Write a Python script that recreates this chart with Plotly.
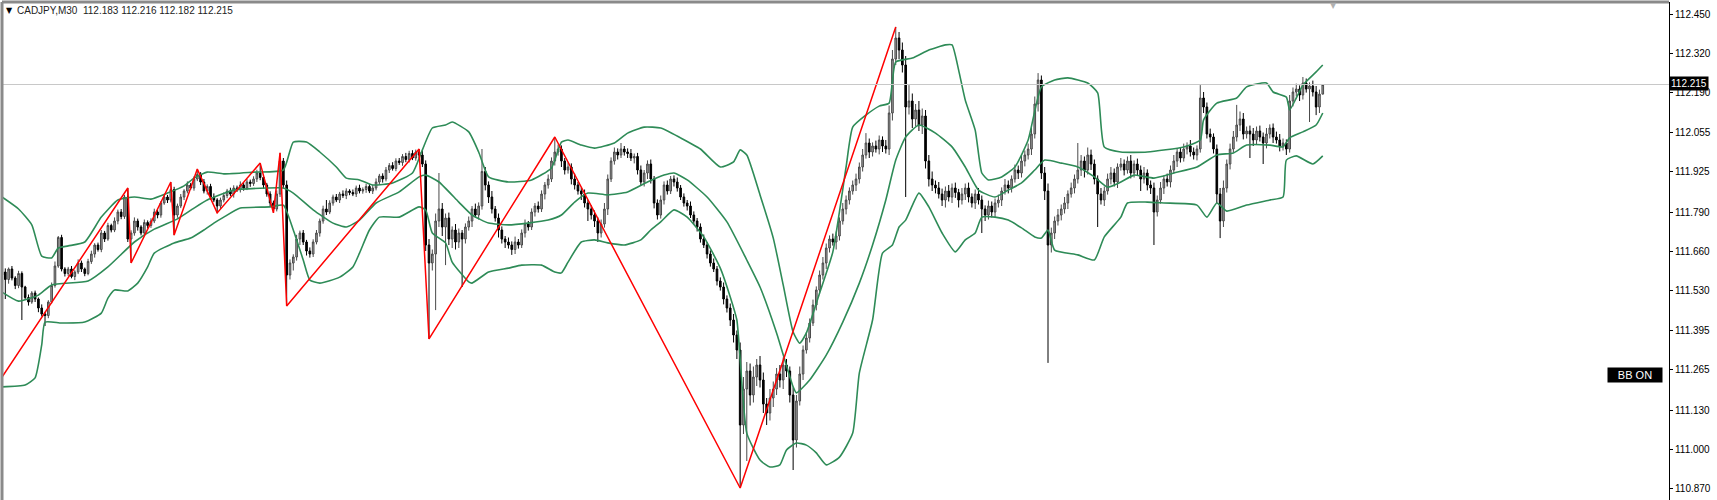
import plotly.graph_objects as go

# ---------------- DATA (prices in pips above 111.000) ----------------
BASE = 111.0
symbol = "CADJPY,M30"
first_open = 580

closes = [
    590,565,600,570,545,585,540,505,490,520,500,470,450,445,490,545,610,705,600,585,
    600,575,590,620,600,585,625,650,680,665,720,700,745,730,760,790,775,840,700,720,
    760,740,720,755,745,760,790,780,820,840,830,865,780,810,840,860,880,870,900,915,
    890,860,875,840,830,810,830,845,860,850,870,865,880,870,890,885,900,920,905,880,
    850,820,800,850,960,880,580,620,640,700,720,690,660,650,690,720,760,800,790,820,
    840,830,850,845,860,855,850,870,860,865,875,860,870,890,910,900,930,945,935,960,
    955,975,965,985,970,990,980,950,680,620,650,760,800,740,770,700,730,690,720,700,
    740,760,800,780,810,925,880,840,800,770,730,700,690,680,665,690,680,720,750,740,
    790,810,800,850,880,900,960,990,1000,960,930,940,900,880,860,850,820,800,780,760,
    720,750,800,900,960,990,980,1000,990,985,970,975,930,890,920,950,900,820,780,830,
    880,860,900,890,870,840,820,810,780,760,740,700,680,650,620,600,560,540,500,470,
    430,380,330,80,200,260,180,240,280,230,150,120,170,200,250,230,280,260,180,30,
    160,250,330,370,420,480,530,580,620,670,700,690,710,760,800,830,860,880,900,940,
    980,1020,990,1010,1000,1030,1010,1000,1120,1300,1370,1330,1280,1140,1160,1100,1130,1080,1110,960,
    900,880,870,850,830,860,840,870,855,830,850,870,840,820,850,830,800,780,810,790,
    820,830,860,880,870,900,930,920,960,980,1000,1050,1150,1230,920,860,680,720,760,780,
    800,820,850,870,900,930,960,930,980,950,900,850,830,860,900,920,890,940,950,930,
    960,920,950,930,900,920,880,870,790,830,870,900,890,930,960,990,970,1000,1010,990,
    980,1000,1170,1140,1050,1040,1000,850,760,870,950,1000,1040,1080,1100,1050,1060,1050,1030,1060,
    1040,1020,1050,1070,1040,1030,1010,1020,1000,1160,1190,1200,1180,1220,1200,1210,1190,1140,1183,1215,
]

upper_wick = [
    8,12,5,10,6,9,7,4,10,6,8,5,12,7,6,10,15,5,9,6,
    7,10,6,12,8,5,9,11,6,8,10,7,9,6,12,8,10,7,30,9,
    12,8,6,10,7,9,11,8,6,10,7,25,9,8,10,6,12,7,9,18,
    8,10,7,9,12,6,8,10,7,11,9,8,12,7,10,8,9,11,33,8,
    7,9,8,12,27,10,15,12,9,14,8,10,7,12,9,10,8,11,30,9,
    8,10,7,12,9,6,10,8,11,7,9,8,10,12,7,9,10,8,11,9,
    10,8,12,9,11,8,10,15,12,20,15,25,120,20,15,18,12,20,15,10,
    12,15,10,18,12,75,15,12,20,10,15,12,10,15,12,18,10,12,15,10,
    12,10,15,12,10,15,12,50,15,12,10,15,12,18,10,12,15,10,12,15,
    12,15,20,15,12,15,12,20,10,12,15,10,12,15,10,12,15,10,12,15,
    12,15,10,12,15,10,12,10,15,12,10,12,15,10,12,15,10,12,15,12,
    15,20,15,25,40,30,25,35,20,30,25,20,30,25,20,30,25,20,15,25,
    20,25,15,20,15,18,12,15,20,15,12,18,15,12,20,15,12,15,18,15,
    20,33,15,12,18,15,12,20,25,30,37,20,25,30,53,25,20,30,25,20,
    20,25,15,20,18,15,20,15,18,12,20,15,18,12,15,20,15,12,18,15,
    15,18,12,20,15,12,18,15,20,15,18,20,25,23,15,20,25,18,15,20,
    15,20,12,18,15,90,20,15,25,18,15,12,20,15,18,20,15,12,20,15,
    15,20,12,18,15,20,12,15,18,15,20,12,18,15,20,12,15,18,12,20,
    15,12,43,20,15,18,12,15,20,25,15,18,20,67,25,20,15,18,20,15,
    18,15,20,12,15,18,20,15,12,20,15,18,12,20,15,12,18,20,15,1,
]

lower_wick = [
    10,65,14,8,12,9,110,8,12,6,10,14,8,35,9,5,7,6,8,10,
    8,6,12,7,10,9,6,8,12,7,9,10,6,8,7,11,9,8,10,80,
    9,12,8,6,10,8,7,11,9,6,10,8,67,9,7,10,8,6,9,7,
    10,8,12,9,7,23,10,8,9,7,12,8,10,9,7,11,8,10,9,12,
    9,10,13,8,10,12,103,15,25,12,20,10,15,12,10,8,12,9,10,7,
    9,7,10,8,12,9,7,10,8,9,11,7,10,8,9,12,8,10,7,9,
    8,11,9,10,7,9,12,10,20,253,25,187,20,30,127,20,30,25,20,160,
    15,12,20,10,15,12,18,20,15,12,25,15,20,12,18,15,12,10,15,12,
    10,15,12,10,18,12,10,15,12,20,15,12,18,15,12,20,15,40,15,20,
    30,15,12,20,10,12,15,10,12,15,10,18,15,12,15,20,15,18,15,12,
    15,12,10,15,12,10,12,15,10,12,15,12,10,15,12,10,15,12,18,15,
    20,25,30,210,30,240,35,25,30,25,30,40,25,30,20,25,30,20,25,100,
    25,15,20,12,15,10,18,12,15,20,15,12,25,15,12,18,15,12,20,15,
    15,12,20,15,12,18,20,15,20,25,20,30,25,300,25,30,25,20,30,25,
    25,20,18,15,20,25,15,20,18,25,15,20,18,15,20,15,80,20,15,18,
    18,15,20,12,18,15,12,20,15,18,15,20,15,25,20,30,393,25,20,15,
    18,15,20,12,18,15,20,25,15,20,18,110,15,20,12,18,15,20,12,18,
    12,18,15,20,40,15,18,20,110,15,12,20,15,18,12,20,15,12,18,15,
    15,18,12,20,15,18,15,30,57,20,15,18,12,15,20,18,15,80,20,15,
    15,70,18,15,20,12,18,15,20,12,18,15,20,15,12,110,15,27,20,1,
]

# Bollinger bands (bar index, pips)
bb_up_idx = [0,5,9,12,15,17,20,25,30,35,40,45,50,55,58,62,67,76,85,88,92,96,101,104,108,112,118,124,127,130,
             134,136,141,144,147,153,160,166,169,171,175,179,185,189,194,199,205,211,217,221,223,225,229,233,236,239,241,243,247,251,
             255,257,261,265,268,270,275,280,285,287,289,291,294,296,298,302,306,310,314,318,322,328,331,333,338,346,357,362,363,367,
             373,376,382,384,388,389,391,393,397,399]
bb_up_val = [840,800,747,643,637,670,677,690,773,830,840,833,853,877,903,923,917,923,930,1023,1023,990,940,903,897,880,887,920,997,1070,
             1080,1090,1057,990,907,890,897,937,1023,1030,1013,1003,1020,1053,1073,1070,1037,1000,940,957,997,980,847,703,547,390,353,387,520,657,
             940,1073,1113,1143,1153,1290,1303,1330,1347,1347,1263,1163,1063,920,897,907,940,1030,1207,1230,1237,1220,1187,1007,990,990,1007,1030,1097,1153,
             1170,1207,1220,1190,1173,1130,1170,1213,1257,1280]

bb_mid_idx = [0,5,11,15,26,32,40,46,53,58,62,70,80,85,88,94,100,104,108,113,120,126,128,132,138,142,147,153,159,165,
              169,173,177,183,189,195,200,203,207,213,219,225,229,234,239,240,244,249,254,259,263,267,270,273,277,282,287,291,295,300,
              304,308,312,315,320,325,330,334,338,342,348,354,361,367,372,376,383,387,389,393,397,399]
bb_mid_val = [523,493,513,547,560,607,690,733,767,803,830,863,870,870,853,797,753,740,763,820,857,907,913,890,823,780,753,747,753,763,
              780,823,853,847,857,890,913,920,897,840,757,630,540,387,207,187,230,313,423,553,680,830,963,1040,1080,1053,1007,940,863,840,
              863,887,930,963,953,940,907,873,890,913,903,920,940,980,987,1013,1013,1007,1037,1057,1080,1120]

bb_lo_idx = [0,7,10,12,13,18,25,30,32,34,38,41,44,46,52,57,61,64,67,72,81,85,88,91,93,96,102,106,108,111,
             114,120,126,128,130,134,136,141,142,147,153,157,163,167,169,171,175,179,183,188,193,196,199,203,207,212,217,220,222,225,
             229,232,235,237,240,243,246,249,253,257,259,263,266,269,271,273,277,280,284,288,291,294,296,300,304,308,312,314,316,318,
             325,330,333,338,340,346,351,361,364,367,370,376,383,387,388,391,396,399]
bb_lo_val = [207,213,237,347,423,420,423,453,503,530,527,553,607,653,687,703,730,753,773,803,807,813,730,630,563,553,573,607,653,730,
             773,773,807,797,720,687,623,557,553,590,603,613,613,590,587,623,690,697,687,680,697,730,757,797,773,707,603,507,430,53,
             -37,-60,-53,-3,20,13,-13,-53,-27,53,253,430,653,680,740,763,853,807,720,657,697,720,773,773,763,737,707,703,730,663,
             647,630,707,773,820,823,820,813,773,820,793,813,830,840,963,977,950,977]

# ZigZag pivots (bar index, pips)
zz_idx = [-3,38,39,51,52,59,65,78,82,84,86,126,129,167,223,270]
zz_val = [190,870,620,890,713,933,787,953,787,987,477,1000,367,1040,-130,1407]

tick_prices = [112.450,112.320,112.190,112.055,111.925,111.790,111.660,111.530,
               111.395,111.265,111.130,111.000,110.870]

# ---------------- BUILD ----------------
def px(p):
    return round(BASE + p / 1000.0, 3)

n = len(closes)
opens = [first_open] + closes[:-1]
o = [px(v) for v in opens]
c = [px(v) for v in closes]
h = [px(max(opens[i], closes[i]) + upper_wick[i]) for i in range(n)]
l = [px(min(opens[i], closes[i]) - lower_wick[i]) for i in range(n)]
xs = list(range(n))

fig = go.Figure()
BB_COLOR = "#2e8b57"
for bx, by in ((bb_up_idx, bb_up_val), (bb_mid_idx, bb_mid_val), (bb_lo_idx, bb_lo_val)):
    fig.add_trace(go.Scatter(x=bx, y=[px(v) for v in by], mode="lines",
                             line=dict(color=BB_COLOR, width=1.6, shape="spline", smoothing=0.5),
                             hoverinfo="skip"))

fig.add_trace(go.Candlestick(
    x=xs, open=o, high=h, low=l, close=c,
    increasing=dict(line=dict(color="#4a4a4a", width=1), fillcolor="#a0a0a0"),
    decreasing=dict(line=dict(color="#000000", width=1), fillcolor="#000000"),
    whiskerwidth=0, hoverinfo="skip"))

fig.add_trace(go.Scatter(x=zz_idx, y=[px(v) for v in zz_val], mode="lines",
                         line=dict(color="#ff0000", width=1.5), hoverinfo="skip"))

last_close = c[-1]
fig.add_shape(type="line", xref="paper", x0=0, x1=1, yref="y", y0=last_close, y1=last_close,
              line=dict(color="#c8c8c8", width=1))
# chart frame (top and left)
fig.add_shape(type="line", xref="paper", yref="paper", x0=0, x1=1, y0=1, y1=1,
              line=dict(color="#8a8a8a", width=3))
fig.add_shape(type="line", xref="paper", yref="paper", x0=0, x1=0, y0=0, y1=1,
              line=dict(color="#8a8a8a", width=3))

nb = "\u00a0"
header = (symbol + nb * 2 + nb.join(f"{v:.3f}" for v in (o[-1], h[-1], l[-1], c[-1])))
fig.add_annotation(xref="paper", yref="paper", x=0, y=1, xanchor="left", yanchor="top",
                   text="▼", showarrow=False, xshift=2, yshift=-2,
                   font=dict(family="DejaVu Sans", size=8, color="#000000"))
fig.add_annotation(xref="paper", yref="paper", x=0, y=1, xanchor="left", yanchor="top",
                   text=header, showarrow=False, xshift=13, yshift=-1,
                   font=dict(family="Liberation Sans", size=10, color="#222222"))
fig.add_annotation(xref="paper", yref="y", x=1, y=last_close, xanchor="left", yanchor="middle",
                   text=f"{last_close:.3f}", showarrow=False, bgcolor="#000000", borderpad=1,
                   yshift=1,
                   font=dict(family="Liberation Sans", size=10, color="#ffffff"))
fig.add_annotation(xref="paper", yref="paper", x=0.9628, y=0.251, xanchor="left", yanchor="middle",
                   text="BB ON", showarrow=False, bgcolor="#000000", width=52, height=12,
                   font=dict(family="Liberation Sans", size=11, color="#ffffff"))
fig.add_annotation(xref="paper", yref="paper", x=0.7985, y=1, xanchor="center", yanchor="top",
                   text="▼", showarrow=False, yshift=3,
                   font=dict(family="DejaVu Sans", size=8, color="#b0b0b0"))

fig.update_layout(
    width=1717, height=500,
    margin=dict(l=2, r=48, t=2, b=0),
    paper_bgcolor="white", plot_bgcolor="white",
    showlegend=False,
    xaxis=dict(range=[0, 503.6], visible=False, rangeslider=dict(visible=False), fixedrange=True),
    yaxis=dict(side="right", range=[110.830, 112.490], tickvals=tick_prices,
               ticktext=[f"{t:.3f}" for t in tick_prices], ticks="outside", ticklen=3,
               tickcolor="#000000", showline=True, linecolor="#000000", linewidth=1,
               showgrid=False, zeroline=False, fixedrange=True,
               tickfont=dict(family="Liberation Sans", size=10, color="#000000")),
)

fig.write_html("out.html", config={"displayModeBar": False},
               post_script="document.body.style.margin='0';document.body.style.overflow='hidden';")
